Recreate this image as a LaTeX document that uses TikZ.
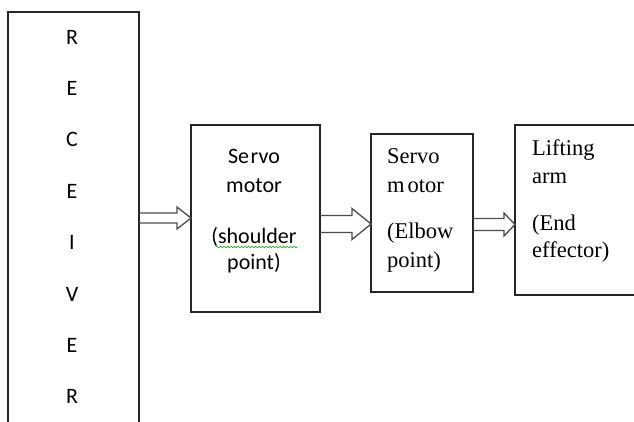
\documentclass[tikz,border=0pt]{standalone}
\usepackage{fontspec}
\newfontfamily\calib{Carlito}
\newfontfamily\tms{Liberation Serif}
\usetikzlibrary{calc,decorations.pathmorphing}
\begin{document}
\begin{tikzpicture}[x=1pt,y=-1pt]
\tikzset{
 box/.style={draw=black!85, line width=1.4pt, inner sep=0pt, outer sep=0pt, anchor=north west},
 letter/.style={font=\calib\fontsize{22}{26}\selectfont, inner sep=0pt},
 ctxt/.style={font=\calib\fontsize{22}{26}\selectfont, inner sep=0pt, anchor=base},
 ttxt/.style={font=\tms\fontsize{22.5}{27}\selectfont, inner sep=0pt, anchor=base west},
 arrsw/.store in=\arrSW, arrhw/.store in=\arrHW, arrhl/.store in=\arrHL,
 fatarrow/.style={draw=black!70, line width=1.3pt, line join=miter,
  to path={let \p1=(\tikztostart), \p2=(\tikztotarget) in
   ({\x1},{\y1+\arrSW*1pt}) -- ({\x2-\arrHL*1pt},{\y1+\arrSW*1pt}) --
   ({\x2-\arrHL*1pt},{\y1+\arrHW*1pt}) -- ({\x2},{\y1}) --
   ({\x2-\arrHL*1pt},{\y1-\arrHW*1pt}) -- ({\x2-\arrHL*1pt},{\y1-\arrSW*1pt}) --
   ({\x1},{\y1-\arrSW*1pt})}},
 spell/.style={draw=green!65!black, line width=0.6pt, decorate,
  decoration={snake, segment length=3.5pt, amplitude=0.9pt}}
}
\useasboundingbox (0,0) rectangle (634,421);
\clip (0,0) rectangle (634,421);
\fill[white] (0,0) rectangle (634,421);

% boxes
\node[box, minimum width=131pt, minimum height=440pt] (rec) at (8,12) {};
\node[box, minimum width=129pt, minimum height=187pt] (b1) at (191,125) {};
\node[box, minimum width=102pt, minimum height=158pt] (b2) at (371,134) {};
\node[box, minimum width=140pt, minimum height=170pt] (b3) at (515,125) {};

% receiver letters
\foreach \ch [count=\i] in {R,E,C,E,I,V,E,R}
  \node[letter] (r\i) at (72,{37+51.4*(\i-1)}) {\ch};

% box 1 text
\node[ctxt] (t11) at (254,163) {Se\kern1.5pt rvo};
\node[ctxt] (t12) at (254,192) {motor};
\node[ctxt] (t13) at (254,243) {(shoulder};
\node[ctxt] (t14) at (254,269) {point)};
\coordinate (sq1) at (216,247);
\coordinate (sq2) at (297,247);
\draw[spell] (sq1) -- (sq2);

% box 2 text
\node[ttxt] (t21) at (387,163) {Servo};
\node[ttxt] (t22) at (387,192) {m\kern3pt otor};
\node[ttxt] (t23) at (387,238) {(Elbow};
\node[ttxt] (t24) at (387,267) {point)};

% box 3 text
\node[ttxt] (t31) at (532,155) {Lifting};
\node[ttxt] (t32) at (532,183) {arm};
\node[ttxt] (t33) at (532,230) {(End};
\node[ttxt] (t34) at (532,257) {effector)};

% arrows
\coordinate (ya) at (0,218);
\coordinate (yb) at (0,224);
\coordinate (yc) at (0,224.5);
\draw[fatarrow, arrsw=5, arrhw=11, arrhl=14] (rec.east |- ya) to (b1.west |- ya);
\draw[fatarrow, arrsw=8.5, arrhw=15.5, arrhl=19] (b1.east |- yb) to (b2.west |- yb);
\draw[fatarrow, arrsw=6, arrhw=11.5, arrhl=11] (b2.east |- yc) to (b3.west |- yc);
\end{tikzpicture}
\end{document}
